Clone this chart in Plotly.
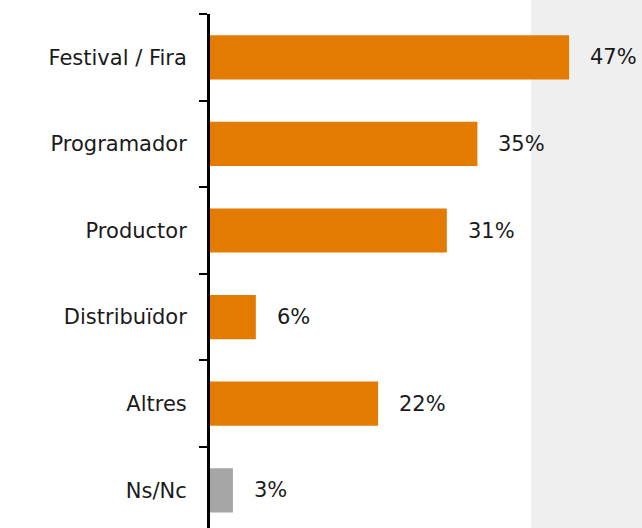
import plotly.graph_objects as go

categories = ["Festival / Fira", "Programador", "Productor", "Distribuïdor", "Altres", "Ns/Nc"]
values = [47, 35, 31, 6, 22, 3]
labels = ["47%", "35%", "31%", "6%", "22%", "3%"]
colors = ["#E37B00", "#E37B00", "#E37B00", "#E37B00", "#E37B00", "#A6A6A6"]

W, H = 642, 528
ml, mr, mt, mb = 210, 0, 14, 0
plot_w = W - ml - mr
px_per_unit = 7.64
xmax = plot_w / px_per_unit
FONT = "DejaVu Sans, sans-serif"

fig = go.Figure()
fig.add_trace(go.Bar(
    y=categories, x=values, orientation="h",
    marker=dict(color=colors, line=dict(width=0)),
    width=0.51,
    hoverinfo="skip",
))

for c, v, t in zip(categories, values, labels):
    fig.add_annotation(x=v, y=c, text=t, showarrow=False, xanchor="left",
                       xshift=19, font=dict(family=FONT, size=21, color="#1a1a1a"))

fig.add_shape(type="rect", xref="paper", yref="paper",
              x0=(531 - ml) / plot_w, x1=1.0,
              y0=0, y1=1 + mt / (H - mt - mb),
              fillcolor="#EFEFEF", line=dict(width=0), layer="below")

fig.update_layout(
    width=W, height=H,
    margin=dict(l=ml, r=mr, t=mt, b=mb),
    paper_bgcolor="white", plot_bgcolor="rgba(0,0,0,0)",
    showlegend=False,
    font=dict(family=FONT, size=21, color="#1a1a1a"),
    xaxis=dict(range=[0, xmax], visible=False, fixedrange=True),
    yaxis=dict(
        type="category", categoryorder="array", categoryarray=categories,
        range=[-0.5 + (H - mt - mb) / 86.6, -0.5],
        showline=True, linecolor="black", linewidth=3,
        ticks="outside", ticklen=8, tickwidth=1.5, tickcolor="black",
        tickson="boundaries", showgrid=False, zeroline=False,
        ticklabelstandoff=16, fixedrange=True,
        tickfont=dict(family=FONT, size=21, color="#1a1a1a"),
    ),
)

fig.write_html("out.html", config={"displayModeBar": False},
               post_script="document.body.style.margin='0';document.body.style.overflow='hidden';")
